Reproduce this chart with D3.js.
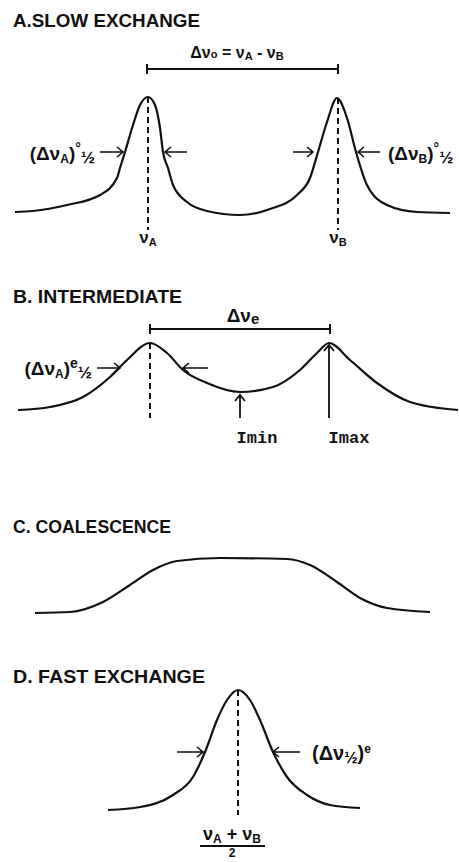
<!DOCTYPE html>
<html>
<head>
<meta charset="utf-8">
<script src="https://cdn.jsdelivr.net/npm/d3@7"></script>
<style>
  html, body { margin: 0; padding: 0; background: #fff; }
  svg { display: block; }
</style>
</head>
<body>
<div id="chart"></div>
<script>
// Line-shape sketches for two-site chemical exchange.
// Each point is [frequency (arbitrary units), intensity above the panel baseline].
const panelTitles = ['A.SLOW EXCHANGE', 'B. INTERMEDIATE', 'C. COALESCENCE', 'D. FAST EXCHANGE'];

const slowSpectrum = [
  [15, 3], [33, 4], [67, 10], [100, 20], [117, 37], [120, 47], [125, 63], [133, 90], [140, 110],
  [148, 118], [155, 110], [160, 87], [163, 63], [168, 47], [173, 30], [187, 13], [207, 4], [240, 0],
  [270, 6], [297, 20], [310, 37], [318, 63], [327, 93], [337, 117], [347, 97], [356, 63],
  [367, 30], [387, 10], [417, 3], [450, 2]
];
const intermediateSpectrum = [
  [18, 1], [50, 4], [83, 14], [110, 34], [127, 51], [150, 68], [167, 58], [183, 41], [207, 28],
  [240, 19], [273, 24], [300, 41], [317, 58], [329, 68], [350, 51], [377, 28], [410, 9], [458, 1]
];
const coalescenceSpectrum = [
  [35, 0], [70, 1], [103, 11], [130, 28], [153, 43], [177, 52], [220, 55], [287, 54],
  [310, 48], [337, 31], [360, 15], [387, 5], [430, 1]
];
const fastSpectrum = [
  [108, 1], [140, 4], [173, 16], [193, 34], [205, 59], [217, 91], [227, 111], [238, 121],
  [250, 111], [260, 91], [273, 59], [287, 34], [307, 16], [330, 6], [360, 3]
];
const spectra = [slowSpectrum, intermediateSpectrum, coalescenceSpectrum, fastSpectrum];

// peak markers (dashed), separation brackets, half-width arrows, level arrows
const peakMarkers = [
  { panel: 0, freq: 148, top: 118, bottom: -15 },
  { panel: 0, freq: 338, top: 117, bottom: -15 },
  { panel: 1, freq: 150, top: 68, bottom: -7 },
  { panel: 3, freq: 238, top: 121, bottom: -4 }
];
const brackets = [
  { panel: 0, from: 147, to: 338, level: 146 },
  { panel: 1, from: 150, to: 330, level: 82 }
];
const widthArrows = [
  { panel: 0, from: 100, to: 123, level: 63 },
  { panel: 0, from: 187, to: 165, level: 63 },
  { panel: 0, from: 293, to: 313, level: 63 },
  { panel: 0, from: 380, to: 358, level: 63 },
  { panel: 1, from: 97, to: 120, level: 43 },
  { panel: 1, from: 208, to: 183, level: 43 },
  { panel: 3, from: 177, to: 203, level: 59 },
  { panel: 3, from: 300, to: 273, level: 59 }
];
const levelArrows = [
  { panel: 1, freq: 240, from: -7, to: 16 },
  { panel: 1, freq: 329, from: -7, to: 66 }
];

// labels: rich text as runs of [text, size, dy]
const labels = [
  { panel: 0, freq: 237, level: 157, anchor: 'middle', size: 16,
    runs: [['Δν'], ['o', 11, 0], [' = ν'], ['A', 11, 2], [' - ν', null, -2], ['B', 11, 2]] },
  { panel: 0, freq: 95, level: 55, anchor: 'end', size: 19,
    runs: [['(Δν'], ['A', 12, 3], [')', null, -3], ['°', 14, -7], ['½', 17, 10]] },
  { panel: 0, freq: 388, level: 55, anchor: 'start', size: 19,
    runs: [['(Δν'], ['B', 12, 3], [')', null, -3], ['°', 14, -7], ['½', 17, 10]] },
  { panel: 0, freq: 148, level: -28, anchor: 'middle', size: 17, runs: [['ν'], ['A', 11, 3]] },
  { panel: 0, freq: 338, level: -28, anchor: 'middle', size: 17, runs: [['ν'], ['B', 11, 3]] },
  { panel: 1, freq: 243, level: 89, anchor: 'middle', size: 19, runs: [['Δν'], ['e', 15, 2]] },
  { panel: 1, freq: 92, level: 36, anchor: 'end', size: 19,
    runs: [['(Δν'], ['A', 12, 3], [')', null, -3], ['e', 14, -7], ['½', 17, 10]] },
  { panel: 1, freq: 257, level: -32, anchor: 'middle', size: 17, mono: true, runs: [['Imin']] },
  { panel: 1, freq: 349, level: -32, anchor: 'middle', size: 17, mono: true, runs: [['Imax']] },
  { panel: 3, freq: 312, level: 51, anchor: 'start', size: 20,
    runs: [['(Δν'], ['½', 16, 3], [')', null, -3], ['e', 12, -7]] },
  { panel: 3, freq: 232, level: -29, anchor: 'middle', size: 18,
    runs: [['ν'], ['A', 12, 3], [' + ν', null, -3], ['B', 12, 3]] },
  { panel: 3, freq: 232, level: -46, anchor: 'middle', size: 12, runs: [['2']] }
];
const fractionBars = [{ panel: 3, from: 200, to: 265, level: -35 }];

// ---- layout ----
const width = 459, height = 862;
const panelBaseY = [215, 411, 613, 811];
const titleY = [27, 303, 533, 683];
const titleWidths = [187, 169, 158, 192];

const svg = d3.select('#chart').append('svg')
  .attr('width', width).attr('height', height)
  .style('font-family', '"Liberation Sans", Arial, sans-serif')
  .style('fill', '#111');

const x = d3.scaleLinear().domain([0, 459]).range([0, width]);
const yScales = panelBaseY.map(b => d3.scaleLinear().domain([0, 130]).range([b, b - 130]));

const line = (panel) => d3.line()
  .x(d => x(d[0]))
  .y(d => yScales[panel](d[1]))
  .curve(d3.curveMonotoneX);

// titles
svg.selectAll('text.title')
  .data(panelTitles)
  .join('text')
  .attr('class', 'title')
  .attr('x', 13)
  .attr('y', (d, i) => titleY[i])
  .attr('textLength', (d, i) => titleWidths[i])
  .attr('lengthAdjust', 'spacingAndGlyphs')
  .style('font-size', '18px')
  .style('font-weight', 'bold')
  .text(d => d);

// spectra
spectra.forEach((pts, i) => {
  svg.append('path')
    .attr('d', line(i)(pts))
    .attr('fill', 'none')
    .attr('stroke', '#111')
    .attr('stroke-width', 2.2)
    .attr('stroke-linejoin', 'round');
});

// dashed peak markers
svg.selectAll('line.marker')
  .data(peakMarkers)
  .join('line')
  .attr('class', 'marker')
  .attr('x1', d => x(d.freq)).attr('x2', d => x(d.freq))
  .attr('y1', d => yScales[d.panel](d.top))
  .attr('y2', d => yScales[d.panel](d.bottom))
  .attr('stroke', '#111')
  .attr('stroke-width', 2)
  .attr('stroke-dasharray', '6,4');

// brackets
brackets.forEach(b => {
  const yy = yScales[b.panel](b.level);
  svg.append('path')
    .attr('d', `M${x(b.from)},${yy}H${x(b.to)}M${x(b.from)},${yy - 5}V${yy + 5}M${x(b.to)},${yy - 5}V${yy + 5}`)
    .attr('fill', 'none')
    .attr('stroke', '#111')
    .attr('stroke-width', 2);
});

// horizontal arrows
widthArrows.forEach(a => {
  const yy = yScales[a.panel](a.level);
  const x1 = x(a.from), x2 = x(a.to);
  const s = Math.sign(x2 - x1);
  svg.append('path')
    .attr('d', `M${x1},${yy}H${x2}M${x2 - s * 6},${yy - 5}L${x2},${yy}L${x2 - s * 6},${yy + 5}`)
    .attr('fill', 'none')
    .attr('stroke', '#111')
    .attr('stroke-width', 1.6);
});

// vertical arrows
levelArrows.forEach(a => {
  const xx = x(a.freq);
  const y1 = yScales[a.panel](a.from), y2 = yScales[a.panel](a.to);
  svg.append('path')
    .attr('d', `M${xx},${y1}V${y2}M${xx - 5},${y2 + 6}L${xx},${y2}L${xx + 5},${y2 + 6}`)
    .attr('fill', 'none')
    .attr('stroke', '#111')
    .attr('stroke-width', 1.8);
});

// fraction bar
fractionBars.forEach(f => {
  const yy = yScales[f.panel](f.level);
  svg.append('line')
    .attr('x1', x(f.from)).attr('x2', x(f.to))
    .attr('y1', yy).attr('y2', yy)
    .attr('stroke', '#111').attr('stroke-width', 2);
});

// labels
labels.forEach(l => {
  const t = svg.append('text')
    .attr('x', x(l.freq))
    .attr('y', yScales[l.panel](l.level))
    .attr('text-anchor', l.anchor)
    .style('font-size', l.size + 'px')
    .style('font-weight', 'bold');
  if (l.mono) t.style('font-family', '"Liberation Mono", monospace');
  l.runs.forEach(([txt, size, dy]) => {
    const ts = t.append('tspan').text(txt);
    if (size) ts.style('font-size', size + 'px');
    if (dy) ts.attr('dy', dy);
  });
});
</script>
</body>
</html>
